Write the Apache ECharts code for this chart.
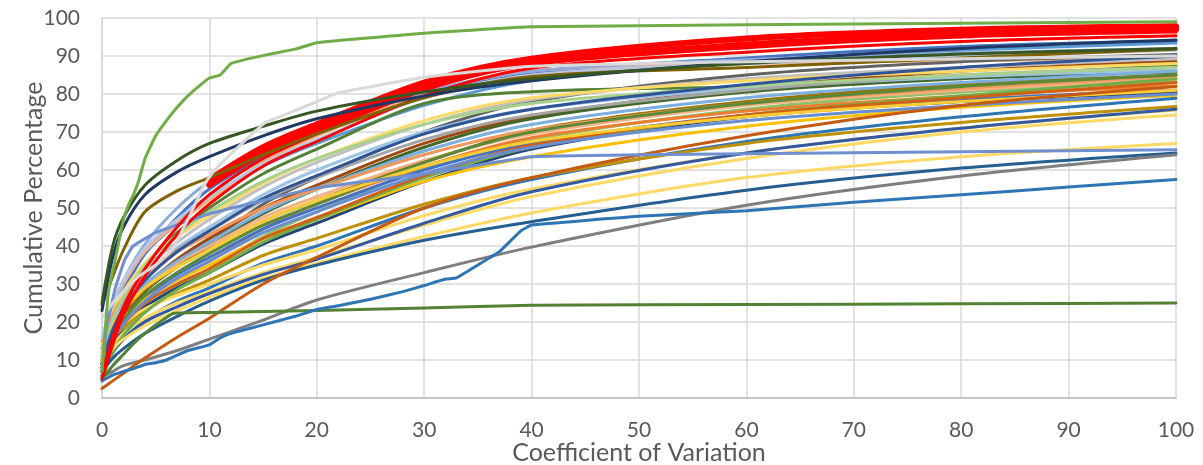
<!DOCTYPE html>
<html><head><meta charset="utf-8">
<script src="https://cdn.jsdelivr.net/npm/echarts@6/dist/echarts.min.js"></script>
<style>html,body{margin:0;padding:0;background:#fff}#c{width:1203px;height:465px}</style>
</head><body><div id="c"></div><script>
// shared x positions (coefficient of variation) for most curves
const cvGrid = [0,1,2,4,7,10,15,20,30,40,60,80,100];
const cvTail = [10,15,20,30,40,60,80,100];

// cluster curves (cumulative %) read at cvGrid
const s01 = [12,22,29,38,46,53,61,67,77,83.5,88.5,91.5,93.4];
const s02 = [9,20.5,28,38,47.5,55,63.5,70,80,85.5,89.5,92.5,94];
const s03 = [15,24,30,38.5,46,52,62,69,80,86,88,88.8,89.3];
const s04 = [13,24,31,40.5,50,57,65,71,80.5,86,89,90.7,92];
const s05 = [10,18,22.5,29.5,36,41,51,58,70,78,85,88.5,90.4];
const s06 = [9,19,26,35,43.5,50,59,65.5,77.5,80.6,82,84.5,87.6];
const s07 = [11,20,26,34,41,47,55.5,62,72,78.5,84,87,89.1];
const s08 = [8,16.5,22,29.5,36.5,42,50,56,67,74,81.5,86,88.5];
const s09 = [7,15,20.5,28,34.5,40,48.5,55,66,73.5,80.5,84,85.7];
const s10 = [10,19,24.5,32,39.5,45,53.5,60,70,76,81.5,84.5,86.3];
const s11 = [14,22.5,28,35.5,42.5,48,56.5,63,73,79,83.5,86,88];
const s12 = [6,13,17.5,23.5,29.5,34,42.5,49,60.5,68,76,80.5,83.3];
const s13 = [7,14.5,19,25.5,31.5,36,44.5,51,61,68.5,75.5,79.5,82.1];
const s14 = [12,19,23.5,29.5,35.5,40,47.5,53,62.5,69.5,77,81,84];
const s15 = [9,16,20.5,26.5,32.5,37,44.5,50,60,67,74.5,78.5,81];
const s16 = [8,14.5,18.5,24,29,33,40.5,46,57,65.5,74,78,80.4];
const s17 = [11,17,21,26,31,35,42,47,57,63.5,71.5,76.5,79.7];
const s18 = [6,12,15.5,20.5,25.5,29,35.5,40,50,57.5,67.5,74,78.9];
const s19 = [10,15.5,18.5,23,27.5,31,37.5,42,51,58,67,72.5,76.7];
const s20 = [12,16.5,19.5,23.5,27,30,35,39,48,55,64.5,71,75.8];
const s21 = [9,14,17,21,25,28,33,37,45.5,53,63,70,74.5];
const s22 = [7,12,15.5,20,24,27.5,32.5,36.5,46,54.3,64.5,71,76];
const s23 = [13,21,25.5,32.5,39,44,52,58,68,74.5,81,85,87];
const s24 = [10,17.5,22,28.5,34.5,39,46.5,52,62,70.5,78,82.5,85];
const s25 = [5,12,16.5,22.5,28.5,33,41,47,58,66,74.5,79.5,84];
const s26 = [11,18.5,23.5,30,36,41,49,55,65,72,79,83,86];
const s27 = [15,22,26.5,32.5,38.5,43,50,55,64,70.5,77.5,81.5,84.7];
const s28 = [9,15.5,19.5,25,30,34,42,47.5,58.5,66.5,74.5,79,83];
const s29 = [8,15.5,20.5,27,33,38,45.5,51,62,70,77.5,82,85];
const s30 = [12,19,23,29,34.5,39,46.5,52,61,67.5,74,78,81];
const s31 = [8,15,19.5,25.5,31.5,36,43.5,49,59,66,73,77,80];
const s32 = [16,25,31,39.5,47,53,61.5,68,79,85,88,90,91.5];
const s33 = [11,20.5,26.5,35,43,49,57,63,72,77.5,82,85,87];
const s34 = [9,18,23.5,31,38.5,44,52.5,58.5,69.5,76,82.5,87,90];
const s35 = [10,13,15.5,19,23,26.5,31.5,35.5,42.5,48.7,58,63.5,67];
const s36 = [7,10.5,13,17,21.5,25.5,31,35,41.5,46.4,54.7,60.5,64.5];
const s37 = [5.5,7,8.5,10,12.5,15.5,20.5,25.8,33,39.7,50.7,58.4,64];
const s38 = [2.5,4.5,6.5,10.5,16,21,30,37,50,58,69,77,82];
const s39 = [25,40,47.5,56,62.5,67,71.5,75.5,80.5,84,88,90.5,92];
const s40 = [23,37,45,53.5,59.5,63.5,69,73.5,79.5,83.5,88.5,92,94.2];
const s41 = [24.5,32,39,49,54.5,58,64,69.5,79,84.6,87,89.5,91.8];
// red bundle: two thin curves from 0, two heavy curves from CV 10
const r1 = [5,14,22,32,43,51,61,67.5,79.5,86.8,91,93.8,95.3];
const r2 = [7,16,24,34,45,53.5,63,69.5,81,87.7,92.2,95,96.3];
const r3 = [56,64.5,70.5,81.5,88.2,93,95.8,97];
const r4 = [57.5,66,72,83,89.3,94.6,96.9,97.8];

// curves with their own x positions
const greenTopX = [0,0.6,1.2,2,2.5,3,3.4,4,5,6,7,8,9,10,11,12,14,16,18,20,30,40,60,80,100];
const greenTopY = [7,28,36,47,51,54,57,63,69,73,76.5,79.5,82,84.2,85,88,89.5,90.7,91.8,93.5,96,97.7,98.2,98.6,99];
const flatX = [0,1,2,3,4,5,6,6.7,10,20,30,40,60,80,100];
const flatY = [5,8.5,11.5,14.5,17,19.2,21.2,22.3,22.5,23,23.7,24.4,24.6,24.8,25];
const lowBlueX = [0,1,2,3,4,5,6,8,10,11,12,14,16,18,20,22,25,28,30,32,33,35,37,39,40,50,60,70,80,90,100];
const lowBlueY = [4.5,6,7,7.8,8.8,9.3,10,12.5,14,15.8,17,18.5,20,21.5,23.3,24.3,26,28,29.6,31.3,31.6,35,38.5,44,45.5,47.8,49.3,51.5,53.5,55.5,57.5];
const kinkX = [0,0.4,1.2,2.1,2.9,5,10,20,30,40,50,60,80,100];
const kinkY = [5,18,28.5,36.3,40,43.5,48.5,55.3,59,63.5,64,64.3,64.8,65.3];
const lgX = [0,1,2,3.4,5,6.5,8,9.6,10.5,12.4,15.2,17,20,22,30,40,60,80,100];
const lgY = [21,25,28,32,35,39,47,56.5,60,65.3,72.5,74.5,78,80.3,84.4,87.3,88.5,89.3,90];

const xTicks = [0,10,20,30,40,50,60,70,80,90,100];
const yTicks = [0,10,20,30,40,50,60,70,80,90,100];

const clusterList = [s01,s02,s03,s04,s05,s06,s07,s08,s09,s10,s11,s12,s13,s14,s15,s16,s17,s18,s19,s20,s21,s22,s23,s24,s25,s26,s27,s28,s29,s30,s31,s32,s33,s34];
const clusterColors = ['#5B9BD5','#4472C4','#F4B183','#8FAADC','#636363','#548235','#BFBFBF','#9E480E','#43682B','#9DC3E6','#FFD966','#8CC168','#ED7D31','#F4B183','#4472C4','#264478','#FFC000','#2E75B6','#BF9000','#FFD966','#FFD966','#335AA1','#A5A5A5','#997300','#70AD47','#7CAFDD','#F1975A','#D26012','#5A8A39','#FFCD33','#698ED0','#B4C7E7','#A9D18E','#2F5597'];

function gridPairs(ys){ return ys.map((v,i)=>[cvGrid[i], v]); }
function pairs(xs, ys){ return xs.map((x,i)=>[x, ys[i]]); }
function line(data, color, width, smooth){
  return {type:'line', data:data, showSymbol:false, symbol:'none', smooth:smooth,
    lineStyle:{color:color, width:width, cap:'round', join:'round'}, itemStyle:{color:color}, emphasis:{disabled:true}, silent:true, z:2};
}
const SM = 0.3;
const series = [];
clusterList.forEach((ys,i)=>series.push(line(gridPairs(ys), clusterColors[i], 3, SM)));
series.push(line(gridPairs(s35), '#FFD966', 3, SM));
series.push(line(gridPairs(s36), '#255E91', 3, SM));
series.push(line(gridPairs(s37), '#7F7F7F', 3, SM));
series.push(line(gridPairs(s38), '#C55A11', 3, SM));
series.push(line(pairs(flatX, flatY), '#548235', 3, 0.15));
series.push(line(pairs(lowBlueX, lowBlueY), '#2E75B6', 3, 0.1));
series.push(line(pairs(kinkX, kinkY), '#6F8FCF', 3, 0.1));
series.push(line(gridPairs(r1), '#FF0000', 3, SM));
series.push(line(gridPairs(r2), '#FF0000', 3, SM));
series.push(line(pairs(cvTail, r3), '#FF0000', 6, SM));
series.push(line(pairs(cvTail, r4), '#FF0000', 6, SM));
series.push(line(gridPairs(s41), '#806000', 3, SM));
series.push(line(gridPairs(s40), '#203864', 3, SM));
series.push(line(gridPairs(s39), '#375623', 3, SM));
series.push(line(pairs(lgX, lgY), '#D9D9D9', 3, 0.15));
series.push(line(pairs(greenTopX, greenTopY), '#70AD47', 3, 0.1));

const font = 'Lato, "Open Sans", sans-serif';
const chart = echarts.init(document.getElementById('c'), null, {renderer:'canvas'});
chart.setOption({
  animation:false,
  backgroundColor:'#ffffff',
  grid:{left:102, right:27, top:18, bottom:67, containLabel:false, outerBoundsMode:'none'},
  xAxis:{type:'value', min:xTicks[0], max:xTicks[xTicks.length-1], interval:10,
    name:'Coefficient of Variation', nameLocation:'middle', nameGap:42, nameMoveOverlap:false,
    nameTextStyle:{color:'#595959', fontSize:25, fontFamily:font},
    axisLine:{show:true, lineStyle:{color:'#BFBFBF', width:1.5}}, axisTick:{show:false},
    axisLabel:{color:'#595959', fontSize:21, fontFamily:font, margin:22},
    splitLine:{show:true, lineStyle:{color:'#D9D9D9', width:1.5}}},
  yAxis:{type:'value', min:yTicks[0], max:yTicks[yTicks.length-1], interval:10,
    name:'Cumulative Percentage', nameLocation:'middle', nameGap:56, nameMoveOverlap:false,
    nameTextStyle:{color:'#595959', fontSize:25, fontFamily:font},
    axisLine:{show:true, lineStyle:{color:'#D9D9D9', width:1.5}}, axisTick:{show:false},
    axisLabel:{color:'#595959', fontSize:21, fontFamily:font, margin:22},
    splitLine:{show:true, lineStyle:{color:'#D9D9D9', width:1.5}}},
  series:series
});
</script></body></html>
